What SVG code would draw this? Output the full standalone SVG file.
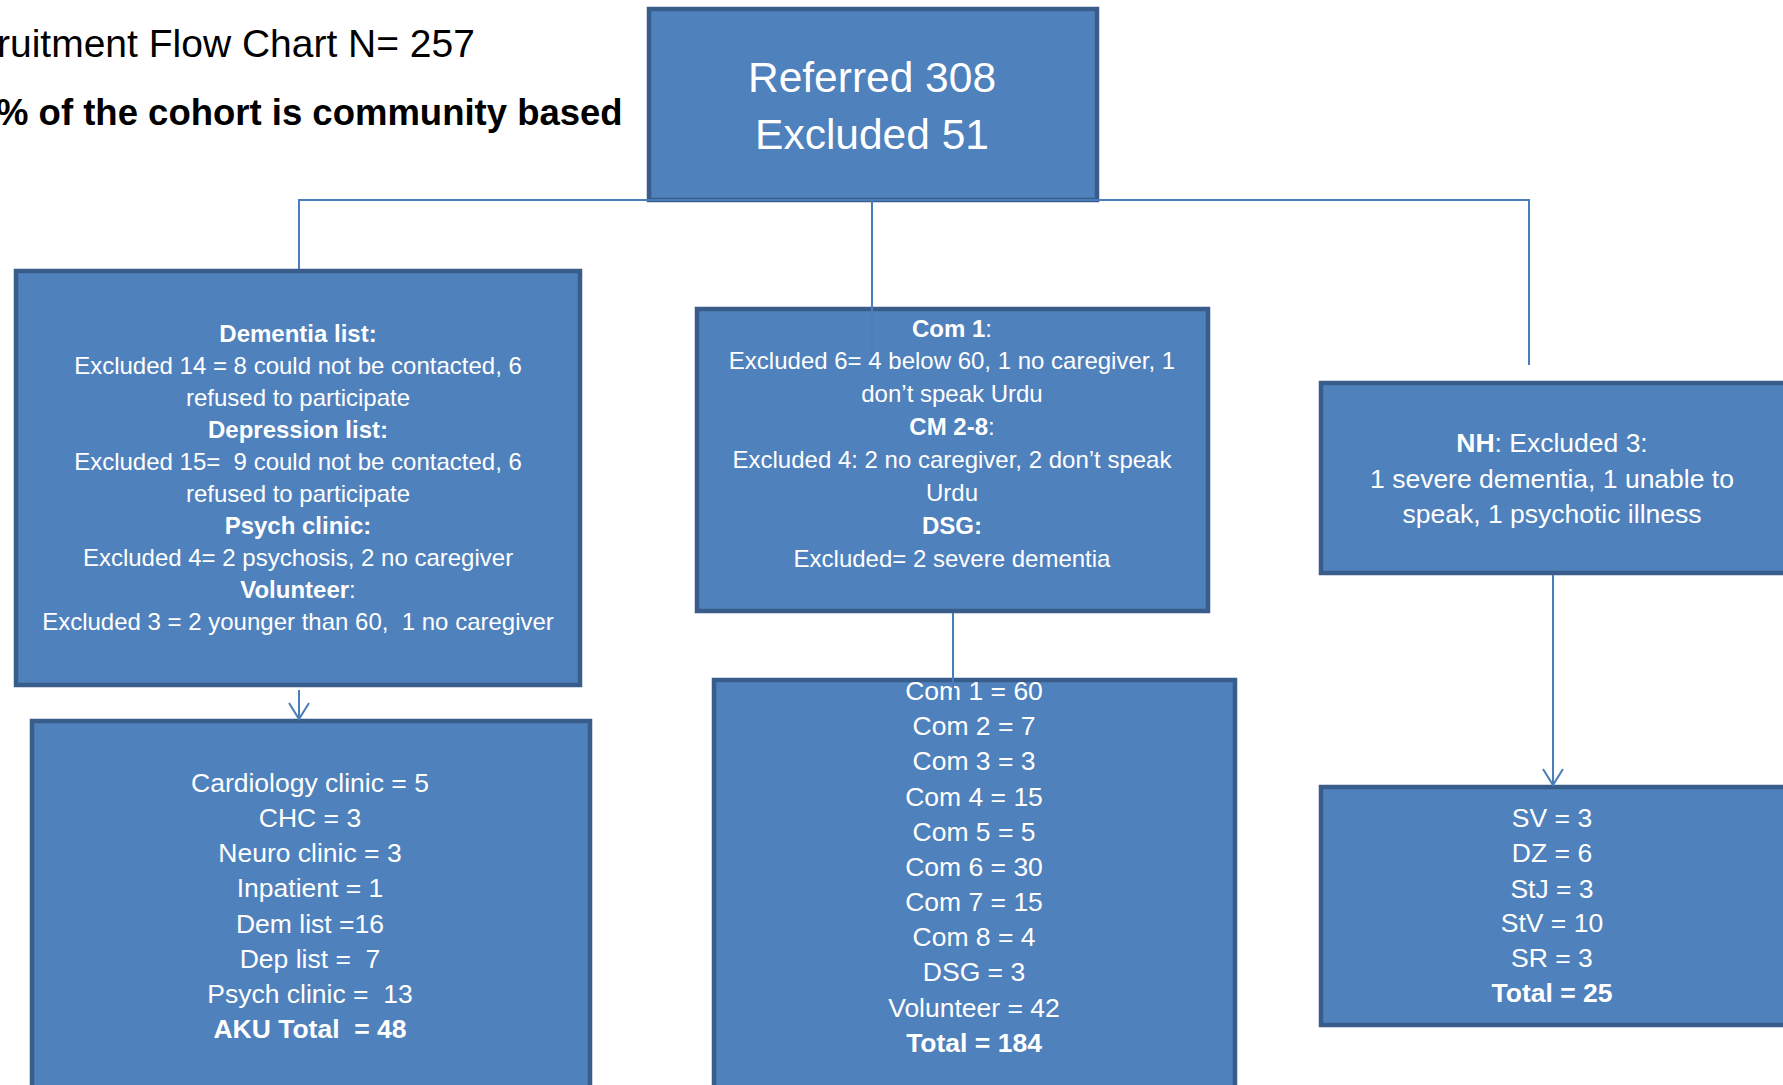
<svg xmlns="http://www.w3.org/2000/svg" width="1783" height="1085" viewBox="0 0 1783 1085">
<style>
.box{fill:#4F81BD;stroke:#385D8A;stroke-width:4.5}
.t{font-family:"Liberation Sans",Arial,sans-serif;fill:#FFFFFF;text-anchor:middle}
.s24{font-size:24px}
.s27{font-size:26.5px}
.b{font-weight:bold}
.title{font-family:"Liberation Sans",Arial,sans-serif;fill:#000000}
.con{fill:none;stroke:#4A7EBB;stroke-width:2}
</style>
<defs>
<marker id="arr" markerUnits="userSpaceOnUse" markerWidth="20" markerHeight="24" refX="17" refY="11" orient="auto" viewBox="0 0 20 22">
<path d="M1,1 L17,11 L1,21" fill="none" stroke="#4A7EBB" stroke-width="2"/>
</marker>
</defs>
<rect width="1783" height="1085" fill="#FFFFFF"/>
<g id="title">
<text class="title" x="-3" y="57" font-size="39">ruitment Flow Chart N= 257</text>
<text class="title" x="-4" y="125" font-size="36.5" font-weight="bold">% of the cohort is community based</text>
</g>
<g id="referred">
<rect class="box" x="649" y="9" width="448" height="191"/>
<text class="t" x="872" y="92" font-size="42.5">Referred 308</text>
<text class="t" x="872" y="149" font-size="42.5">Excluded 51</text>
</g>
<g id="aku-exclusions">
<rect class="box" x="16" y="271" width="564" height="414"/>
<text class="t s24" x="298" y="342"><tspan class="b">Dementia list:</tspan></text>
<text class="t s24" x="298" y="374">Excluded 14 = 8 could not be contacted, 6</text>
<text class="t s24" x="298" y="406">refused to participate</text>
<text class="t s24" x="298" y="438"><tspan class="b">Depression list:</tspan></text>
<text class="t s24" x="298" y="470" xml:space="preserve">Excluded 15=  9 could not be contacted, 6</text>
<text class="t s24" x="298" y="502">refused to participate</text>
<text class="t s24" x="298" y="534"><tspan class="b">Psych clinic:</tspan></text>
<text class="t s24" x="298" y="566">Excluded 4= 2 psychosis, 2 no caregiver</text>
<text class="t s24" x="298" y="598"><tspan class="b">Volunteer</tspan>:</text>
<text class="t s24" x="298" y="630" xml:space="preserve">Excluded 3 = 2 younger than 60,  1 no caregiver</text>
</g>
<g id="community-exclusions">
<rect class="box" x="697" y="309" width="511" height="302"/>
<text class="t s24" x="952" y="337"><tspan class="b">Com 1</tspan>:</text>
<text class="t s24" x="952" y="369">Excluded 6= 4 below 60, 1 no caregiver, 1</text>
<text class="t s24" x="952" y="402">don’t speak Urdu</text>
<text class="t s24" x="952" y="435"><tspan class="b">CM 2-8</tspan>:</text>
<text class="t s24" x="952" y="468">Excluded 4: 2 no caregiver, 2 don’t speak</text>
<text class="t s24" x="952" y="501">Urdu</text>
<text class="t s24" x="952" y="534"><tspan class="b">DSG:</tspan></text>
<text class="t s24" x="952" y="567">Excluded= 2 severe dementia</text>
</g>
<g id="nh-exclusions">
<rect class="box" x="1321" y="383" width="480" height="190"/>
<text class="t s27" x="1552" y="452"><tspan class="b">NH</tspan>: Excluded 3:</text>
<text class="t s27" x="1552" y="488">1 severe dementia, 1 unable to</text>
<text class="t s27" x="1552" y="523">speak, 1 psychotic illness</text>
</g>
<g id="aku-total">
<rect class="box" x="32" y="721" width="558" height="380"/>
<text class="t s27" x="310" y="792">Cardiology clinic = 5</text>
<text class="t s27" x="310" y="827">CHC = 3</text>
<text class="t s27" x="310" y="862">Neuro clinic = 3</text>
<text class="t s27" x="310" y="897">Inpatient = 1</text>
<text class="t s27" x="310" y="933">Dem list =16</text>
<text class="t s27" x="310" y="968" xml:space="preserve">Dep list =  7</text>
<text class="t s27" x="310" y="1003" xml:space="preserve">Psych clinic =  13</text>
<text class="t s27 b" x="310" y="1038" xml:space="preserve">AKU Total  = 48</text>
</g>
<g id="community-total">
<rect class="box" x="714" y="680" width="521" height="420"/>
<text class="t s27" x="974" y="700">Com 1 = 60</text>
<text class="t s27" x="974" y="735">Com 2 = 7</text>
<text class="t s27" x="974" y="770">Com 3 = 3</text>
<text class="t s27" x="974" y="806">Com 4 = 15</text>
<text class="t s27" x="974" y="841">Com 5 = 5</text>
<text class="t s27" x="974" y="876">Com 6 = 30</text>
<text class="t s27" x="974" y="911">Com 7 = 15</text>
<text class="t s27" x="974" y="946">Com 8 = 4</text>
<text class="t s27" x="974" y="981">DSG = 3</text>
<text class="t s27" x="974" y="1017">Volunteer = 42</text>
<text class="t s27 b" x="974" y="1052">Total = 184</text>
</g>
<g id="nh-total">
<rect class="box" x="1321" y="787" width="480" height="238"/>
<text class="t s27" x="1552" y="827">SV = 3</text>
<text class="t s27" x="1552" y="862">DZ = 6</text>
<text class="t s27" x="1552" y="898">StJ = 3</text>
<text class="t s27" x="1552" y="932">StV = 10</text>
<text class="t s27" x="1552" y="967">SR = 3</text>
<text class="t s27 b" x="1552" y="1002">Total = 25</text>
</g>
<g id="connectors">
<path class="con" d="M299,269 L299,200 L1529,200 L1529,365"/>
<path class="con" d="M872,200 L872,356"/>
<path class="con" d="M299,690 L299,719" marker-end="url(#arr)"/>
<path class="con" d="M953,613 L953,706"/>
<path class="con" d="M1553,575 L1553,785" marker-end="url(#arr)"/>
</g>
</svg>
